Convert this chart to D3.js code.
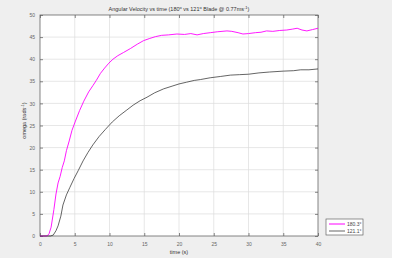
<!DOCTYPE html>
<html>
<head>
<meta charset="utf-8">
<script src="https://cdn.jsdelivr.net/npm/d3@7"></script>
<style>
    body { margin: 0; background: #ffffff; }
    text { font-family: "Liberation Sans", Arial, sans-serif; }
</style>
</head>
<body>
<div id="chart"></div>
<script>
// time (s) and omega (rad/s)
const timeA = [0, 1, 1.3, 1.6, 2.0, 2.3, 2.6, 2.9, 3.2, 3.5, 3.8, 4.2, 4.6, 5.1, 5.7, 6.3, 7.0, 7.6, 8.1, 8.7,
    9.3, 9.9, 10.5, 11.2, 12.0, 13.0, 14.0, 14.9, 15.8, 16.6, 17.5, 18.5, 19.7, 20.8, 21.7, 22.6, 23.5, 24.5,
    25.5, 26.9, 27.6, 28.5, 29.2, 30.0, 31.0, 31.8, 32.6, 33.5, 34.5, 35.5, 36.3, 37.0, 37.7, 38.4, 39.2, 40];
const omegaA = [0, 0, 0.5, 2, 6, 9.5, 12, 13.5, 15.5, 17, 19.3, 21.5, 23.9, 26, 28.4, 30.5, 32.6, 34, 35.2, 36.8,
    38, 39.1, 40, 40.8, 41.5, 42.4, 43.4, 44.2, 44.7, 45.1, 45.4, 45.5, 45.7, 45.6, 45.8, 45.5, 45.8, 46.0,
    46.2, 46.4, 46.3, 46.0, 45.7, 45.8, 46.0, 46.1, 46.4, 46.3, 46.5, 46.6, 46.8, 47.0, 46.6, 46.4, 46.7, 47.0];

const timeB = [0, 1.5, 1.9, 2.3, 2.6, 3.0, 3.3, 3.8, 4.3, 4.9, 5.5, 6.2, 6.9, 7.6, 8.5, 9.4, 10.4, 11.4, 12.4,
    13.4, 14.4, 15.4, 16.5, 17.8, 19.0, 20.0, 21.1, 22.2, 23.1, 24.5, 26.0, 27.4, 28.7, 30.0, 31.5, 33.0,
    35.0, 36.5, 37.5, 38.7, 40];
const omegaB = [0, 0, 0.2, 1.2, 2.3, 4.5, 7, 9.3, 11, 13, 14.8, 17, 18.9, 20.6, 22.5, 24.1, 25.8, 27.2, 28.4,
    29.6, 30.6, 31.4, 32.4, 33.3, 33.9, 34.4, 34.8, 35.2, 35.4, 35.8, 36.1, 36.4, 36.5, 36.6, 36.9, 37.1,
    37.3, 37.4, 37.6, 37.6, 37.8];

const seriesNames = ["180.3\u00b0", "121.1\u00b0"];
const seriesColors = ["#ff00ff", "#222222"];
const xTicks = [0, 5, 10, 15, 20, 25, 30, 35, 40];
const yTicks = [0, 5, 10, 15, 20, 25, 30, 35, 40, 45, 50];

const W = 394, H = 262;
const margin = {top: 15, right: 76, bottom: 26, left: 40};
const width = 318 - margin.left;
const height = 236 - margin.top;

const svg = d3.select("#chart").append("svg")
    .attr("width", W)
    .attr("height", H);

// grey figure background
svg.append("rect")
    .attr("x", 0).attr("y", 0)
    .attr("width", 392).attr("height", 258)
    .attr("fill", "#efefef");

const g = svg.append("g")
    .attr("transform", "translate(" + margin.left + "," + margin.top + ")");

const x = d3.scaleLinear().domain([0, 40]).range([0, width]);
const y = d3.scaleLinear().domain([0, 50]).range([height, 0]);

g.append("rect")
    .attr("width", width).attr("height", height)
    .attr("fill", "#ffffff");

// grid
g.selectAll(".vgrid").data(xTicks.slice(1, -1)).enter().append("line")
    .attr("x1", d => x(d)).attr("x2", d => x(d))
    .attr("y1", 0).attr("y2", height)
    .attr("stroke", "#dcdcdc").attr("stroke-width", 0.7);
g.selectAll(".hgrid").data(yTicks.slice(1, -1)).enter().append("line")
    .attr("x1", 0).attr("x2", width)
    .attr("y1", d => y(d)).attr("y2", d => y(d))
    .attr("stroke", "#dcdcdc").attr("stroke-width", 0.7);

// axes, ticks pointing inward like matlab
function styleAxis(sel) {
    sel.select(".domain").remove();
    sel.selectAll(".tick line").attr("stroke", "#555").attr("stroke-width", 0.7);
    sel.selectAll(".tick text").attr("fill", "#666").attr("font-size", "5px")
        .style("font-family", "Liberation Sans, Arial, sans-serif");
}

g.append("g")
    .attr("transform", "translate(0," + height + ")")
    .call(d3.axisBottom(x).tickValues(xTicks).tickSize(-3).tickPadding(6))
    .call(styleAxis);
g.append("g")
    .call(d3.axisTop(x).tickValues(xTicks).tickSize(-3).tickFormat(""))
    .call(styleAxis);
g.append("g")
    .call(d3.axisLeft(y).tickValues(yTicks).tickSize(-3).tickPadding(5))
    .call(styleAxis);
g.append("g")
    .attr("transform", "translate(" + width + ",0)")
    .call(d3.axisRight(y).tickValues(yTicks).tickSize(-3).tickFormat(""))
    .call(styleAxis);

// box
g.append("rect")
    .attr("width", width).attr("height", height)
    .attr("fill", "none")
    .attr("stroke", "#666").attr("stroke-width", 0.8);

// lines
const line = d3.line()
    .x(d => x(d[0]))
    .y(d => y(d[1]));

const series = [
    d3.zip(timeA, omegaA),
    d3.zip(timeB, omegaB)
];

series.forEach((s, i) => {
    g.append("path")
        .datum(s)
        .attr("fill", "none")
        .attr("stroke", seriesColors[i])
        .attr("stroke-width", i === 0 ? 0.9 : 0.7)
        .attr("d", line);
});

// title and labels
g.append("text")
    .attr("x", width / 2).attr("y", -4)
    .attr("text-anchor", "middle")
    .attr("font-size", "5.5px").attr("fill", "#333")
    .html("Angular Velocity vs time (180<tspan dy='-2' font-size='4px'>o</tspan><tspan dy='2'> vs 121</tspan><tspan dy='-2' font-size='4px'>o</tspan><tspan dy='2'> Blade @ 0.77ms</tspan><tspan dy='-2' font-size='4px'>-1</tspan><tspan dy='2'>)</tspan>");

g.append("text")
    .attr("x", width / 2).attr("y", height + 18)
    .attr("text-anchor", "middle")
    .attr("font-size", "5.5px").attr("fill", "#333")
    .text("time (s)");

g.append("text")
    .attr("transform", "translate(-14," + (height / 2 - 5) + ") rotate(-90)")
    .attr("text-anchor", "middle")
    .attr("font-size", "5.5px").attr("fill", "#333")
    .html("omega (rads<tspan dy='-2' font-size='4px'>-1</tspan><tspan dy='2'>)</tspan>");

// legend
const legend = svg.append("g").attr("transform", "translate(326,219)");
legend.append("rect")
    .attr("width", 37).attr("height", 16)
    .attr("fill", "#ffffff")
    .attr("stroke", "#666").attr("stroke-width", 0.7);
seriesNames.forEach((name, i) => {
    legend.append("line")
        .attr("x1", 3).attr("x2", 19)
        .attr("y1", 5 + i * 7).attr("y2", 5 + i * 7)
        .attr("stroke", seriesColors[i])
        .attr("stroke-width", i === 0 ? 1 : 0.7);
    legend.append("text")
        .attr("x", 21).attr("y", 7 + i * 7)
        .attr("font-size", "5px").attr("fill", "#444")
        .text(name);
});
</script>
</body>
</html>
